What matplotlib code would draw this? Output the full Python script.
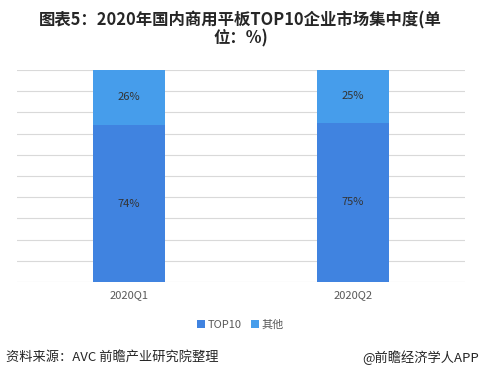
import numpy as np
import matplotlib.pyplot as plt

plt.rcParams['font.family'] = ['Noto Sans CJK SC', 'DejaVu Sans']

quarters = ['2020Q1', '2020Q2']
top10 = [74, 75]
others = [26, 25]

c_top = '#4083E0'
c_oth = '#469DEB'

fig = plt.figure(figsize=(4.81, 3.80), dpi=100)
ax = fig.add_axes([0.035, 0.258, 0.932, 0.558])

x = np.arange(len(quarters))
w = 0.32
ax.bar(x, top10, w, color=c_top, label='TOP10', zorder=3)
ax.bar(x, others, w, bottom=top10, color=c_oth, label='其他', zorder=3)

for i in range(len(x)):
    ax.text(x[i], top10[i] / 2, f'{top10[i]}%', ha='center', va='center', fontsize=8, color='#333333', zorder=4)
    ax.text(x[i], top10[i] + others[i] / 2, f'{others[i]}%', ha='center', va='center', fontsize=8, color='#333333', zorder=4)

ax.set_xlim(-0.5, 1.5)
ax.set_ylim(0, 100)
ax.set_yticks(np.arange(0, 101, 10))
ax.set_yticklabels([])
ax.tick_params(axis='y', length=0)
ax.tick_params(axis='x', length=0, labelsize=8, labelcolor='#595959', pad=6)
ax.set_xticks(x)
ax.set_xticklabels(quarters)
ax.grid(axis='y', color='#D9D9D9', linewidth=0.8, zorder=0)
for s in ax.spines.values():
    s.set_visible(False)

fig.text(0.5, 0.945, '图表5：2020年国内商用平板TOP10企业市场集中度(单', ha='center', va='center',
         fontsize=11.8, fontweight='bold', color='#262626')
fig.text(0.5, 0.898, '位：%)', ha='center', va='center', fontsize=11.8, fontweight='bold', color='#262626')

fig.legend(loc='center', bbox_to_anchor=(0.5, 0.145), ncol=2, frameon=False, fontsize=8,
           handlelength=0.7, handleheight=0.7, handletextpad=0.3, columnspacing=0.8,
           labelcolor='#595959')

fig.text(0.012, 0.06, '资料来源：AVC 前瞻产业研究院整理', ha='left', va='center', fontsize=9.5, color='#262626')
fig.text(0.995, 0.06, '@前瞻经济学人APP', ha='right', va='center', fontsize=9.5, color='#262626')

fig.savefig('out.png', dpi=100)
